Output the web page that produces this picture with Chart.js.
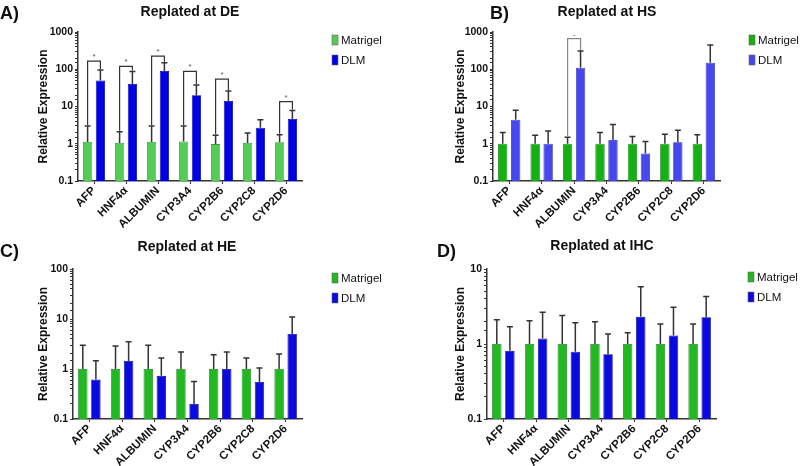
<!DOCTYPE html>
<html>
<head>
<meta charset="utf-8">
<script src="https://cdn.jsdelivr.net/npm/chart.js@4.4.1/dist/chart.umd.min.js"></script>
<style>
  html, body { margin: 0; padding: 0; background: #fff; }
  #wrap { position: relative; width: 800px; height: 466px; background: #fff; }
  canvas { position: absolute; }
</style>
</head>
<body>
<div id="wrap">
  <canvas id="cA" width="400" height="233" style="left:0;top:0"></canvas>
  <canvas id="cB" width="400" height="233" style="left:400px;top:0"></canvas>
  <canvas id="cC" width="400" height="233" style="left:0;top:233px"></canvas>
  <canvas id="cD" width="400" height="233" style="left:400px;top:233px"></canvas>
</div>
<script>
// ---------- data ----------
const categories = ['AFP', 'HNF4α', 'ALBUMIN', 'CYP3A4', 'CYP2B6', 'CYP2C8', 'CYP2D6'];
const seriesNames = ['Matrigel', 'DLM'];

// A) Replated at DE
const deMatrigel    = [1.12, 1.05, 1.12, 1.15, 0.98, 1.05, 1.1];
const deMatrigelErr = [3.0, 2.1, 3.0, 3.0, 1.7, 1.95, 1.75];
const deDLM         = [50, 40, 90, 20, 14, 2.7, 4.6];
const deDLMErr      = [95, 87, 150, 38, 26, 4.4, 7.8];
const deBracket     = [165, 120, 225, 88, 54, null, 13.6];
const deMark        = ['*', '*', '*', '*', '*', null, '*'];

// B) Replated at HS
const hsMatrigel    = [1, 1, 1, 1, 1, 1, 1];
const hsMatrigelErr = [2.0, 1.7, 1.5, 2.0, 1.57, 1.8, 1.75];
const hsDLM         = [4.4, 1.0, 110, 1.26, 0.55, 1.1, 150];
const hsDLMErr      = [7.9, 2.2, 310, 3.3, 1.15, 2.3, 450];
const hsBracket     = [null, null, 665, null, null, null, null];
const hsMark        = [null, null, '-', null, null, null, null];

// C) Replated at HE
const heMatrigel    = [1, 1, 1, 1, 1, 1, 1];
const heMatrigelErr = [3.0, 2.9, 3.0, 2.2, 1.93, 1.66, 2.0];
const heDLM         = [0.62, 1.45, 0.73, 0.2, 1.0, 0.55, 5.0];
const heDLMErr      = [1.47, 3.5, 1.66, 0.56, 2.2, 1.05, 11];

// D) Replated at IHC
const ihcMatrigel    = [1, 1, 1, 1, 1, 1, 1];
const ihcMatrigelErr = [2.1, 2.04, 2.4, 1.98, 1.41, 1.85, 1.85];
const ihcDLM         = [0.81, 1.18, 0.79, 0.73, 2.3, 1.3, 2.27];
const ihcDLMErr      = [1.7, 2.65, 1.92, 1.36, 5.8, 3.1, 4.3];

const yTickLabels = ['0.1', '1', '10', '100', '1000'];

// ---------- rendering ----------
const FONT = '"Liberation Sans", Arial, Helvetica, sans-serif';

const panelPlugin = {
  id: 'panelDeco',
  afterDatasetsDraw(chart) {
    const o = chart.options.plugins.panelDeco;
    const ctx = chart.ctx;
    const y = chart.scales.y;
    ctx.save();
    // error bars
    chart.data.datasets.forEach((ds, di) => {
      const meta = chart.getDatasetMeta(di);
      meta.data.forEach((bar, i) => {
        const e = ds.err[i];
        if (e == null) return;
        const yTop = bar.y;
        const yErr = y.getPixelForValue(e);
        ctx.strokeStyle = '#333';
        ctx.lineWidth = 1.5;
        ctx.beginPath();
        ctx.moveTo(bar.x, yTop);
        ctx.lineTo(bar.x, yErr);
        ctx.moveTo(bar.x - 3, yErr);
        ctx.lineTo(bar.x + 3, yErr);
        ctx.stroke();
      });
    });
    // significance brackets
    if (o.bracket) {
      const m0 = chart.getDatasetMeta(0).data;
      const m1 = chart.getDatasetMeta(1).data;
      const d0 = chart.data.datasets[0].err;
      const d1 = chart.data.datasets[1].err;
      o.bracket.forEach((b, i) => {
        if (b == null) return;
        const yb = y.getPixelForValue(b);
        const x0 = m0[i].x, x1 = m1[i].x;
        const y0 = y.getPixelForValue(d0[i]) - 1;
        const y1 = y.getPixelForValue(d1[i]) - 1;
        ctx.strokeStyle = o.bracketColor;
        ctx.lineWidth = 1.2;
        ctx.beginPath();
        ctx.moveTo(x0, y0);
        ctx.lineTo(x0, yb);
        ctx.lineTo(x1, yb);
        ctx.lineTo(x1, y1);
        ctx.stroke();
        if (o.mark && o.mark[i]) {
          ctx.fillStyle = '#555';
          ctx.font = '8px ' + FONT;
          ctx.textAlign = 'center';
          ctx.textBaseline = 'alphabetic';
          ctx.fillText(o.mark[i], (x0 + x1) / 2, yb - 2);
        }
      });
    }
    ctx.restore();
  },
  afterDraw(chart) {
    const o = chart.options.plugins.panelDeco;
    const ctx = chart.ctx;
    ctx.save();
    ctx.fillStyle = '#111';
    ctx.textBaseline = 'middle';
    // panel letter
    ctx.font = 'bold 18px ' + FONT;
    ctx.textAlign = 'left';
    ctx.fillText(o.letter, o.letterX, o.letterY);
    // title
    ctx.font = 'bold 14px ' + FONT;
    ctx.textAlign = 'center';
    ctx.fillText(o.title, o.titleX, o.titleY);
    // legend
    ctx.font = '11.5px ' + FONT;
    ctx.textAlign = 'left';
    chart.data.datasets.forEach((ds, i) => {
      const ly = o.legendY + i * 20;
      ctx.fillStyle = ds.backgroundColor;
      ctx.fillRect(o.legendX, ly, 6, 10);
      ctx.strokeStyle = '#666';
      ctx.lineWidth = 0.6;
      ctx.strokeRect(o.legendX, ly, 6, 10);
      ctx.fillStyle = '#111';
      ctx.fillText(ds.label, o.legendX + 9, ly + 5.5);
    });
    ctx.restore();
  }
};

function makePanel(id, cfg) {
  const area = cfg.area; // left, right, top, bottom in canvas coords
  return new Chart(document.getElementById(id), {
    type: 'bar',
    data: {
      labels: categories,
      datasets: [
        { label: seriesNames[0], data: cfg.m, err: cfg.mErr, backgroundColor: cfg.cM, borderColor: cfg.bM, borderWidth: 0.8,
          categoryPercentage: 0.8, barPercentage: 0.72 },
        { label: seriesNames[1], data: cfg.d, err: cfg.dErr, backgroundColor: cfg.cD, borderColor: cfg.bD, borderWidth: 0.8,
          categoryPercentage: 0.8, barPercentage: 0.72 }
      ]
    },
    options: {
      responsive: false,
      animation: false,
      devicePixelRatio: 1,
      layout: { padding: { left: 0, top: area.top, right: 400 - area.right, bottom: 0 } },
      plugins: {
        legend: { display: false },
        title: { display: false },
        tooltip: { enabled: false },
        panelDeco: cfg.deco
      },
      scales: {
        x: {
          offset: true,
          grid: { display: true, drawOnChartArea: false, drawTicks: true, tickLength: 3, offset: false, color: '#333' },
          border: { display: true, color: '#333', width: 1.5 },
          ticks: {
            autoSkip: false, minRotation: 45, maxRotation: 45, padding: 0,
            color: '#111', font: { family: FONT, size: 11.5, weight: 'bold' }
          },
          afterFit(s) { s.height = 233 - area.bottom; }
        },
        y: {
          type: 'logarithmic',
          min: cfg.yMin, max: cfg.yMax,
          grid: { display: true, drawOnChartArea: false, drawTicks: true, tickLength: 3, color: '#333' },
          border: { display: true, color: '#333', width: 1.5 },
          ticks: {
            autoSkip: false, padding: 2, color: '#111',
            font: { family: FONT, size: 10.5, weight: 'bold' },
            callback(v) {
              const s = String(+v.toPrecision(3));
              return yTickLabels.includes(s) ? s : '';
            }
          },
          title: {
            display: true, text: 'Relative Expression', color: '#111',
            font: { family: FONT, size: 12, weight: 'bold' },
            padding: { top: cfg.yTitlePad, bottom: 0 }
          },
          afterFit(s) { s.width = area.left; }
        }
      }
    },
    plugins: [panelPlugin]
  });
}

makePanel('cA', {
  m: deMatrigel, mErr: deMatrigelErr, d: deDLM, dErr: deDLMErr,
  cM: '#55cc55', bM: '#3a9a3a', cD: '#0000e6', bD: '#00009a',
  yMin: 0.1, yMax: 1000, yTitlePad: 36,
  area: { left: 78, right: 302, top: 32, bottom: 181 },
  deco: { letter: 'A)', letterX: 0, letterY: 14, title: 'Replated at DE', titleX: 190, titleY: 12,
          legendX: 332, legendY: 35, bracket: deBracket, mark: deMark, bracketColor: '#333' }
});
makePanel('cB', {
  m: hsMatrigel, mErr: hsMatrigelErr, d: hsDLM, dErr: hsDLMErr,
  cM: '#14b014', bM: '#0a7a0a', cD: '#4747f0', bD: '#2a2aa0',
  yMin: 0.1, yMax: 1000, yTitlePad: 53,
  area: { left: 93, right: 320, top: 32, bottom: 181 },
  deco: { letter: 'B)', letterX: 90, letterY: 14, title: 'Replated at HS', titleX: 207, titleY: 12,
          legendX: 349, legendY: 35, bracket: hsBracket, mark: hsMark, bracketColor: '#888' }
});
makePanel('cC', {
  m: heMatrigel, mErr: heMatrigelErr, d: heDLM, dErr: heDLMErr,
  cM: '#22b822', bM: '#178017', cD: '#0a0ae0', bD: '#05059a',
  yMin: 0.1, yMax: 100, yTitlePad: 36,
  area: { left: 73, right: 302, top: 36, bottom: 186 },
  deco: { letter: 'C)', letterX: 0, letterY: 19, title: 'Replated at HE', titleX: 187, titleY: 14,
          legendX: 332, legendY: 40 }
});
makePanel('cD', {
  m: ihcMatrigel, mErr: ihcMatrigelErr, d: ihcDLM, dErr: ihcDLMErr,
  cM: '#22b822', bM: '#178017', cD: '#0a0ae0', bD: '#05059a',
  yMin: 0.1, yMax: 10, yTitlePad: 53,
  area: { left: 87, right: 316, top: 36, bottom: 186 },
  deco: { letter: 'D)', letterX: 37, letterY: 19, title: 'Replated at IHC', titleX: 202, titleY: 13,
          legendX: 348, legendY: 39 }
});
</script>
</body>
</html>
